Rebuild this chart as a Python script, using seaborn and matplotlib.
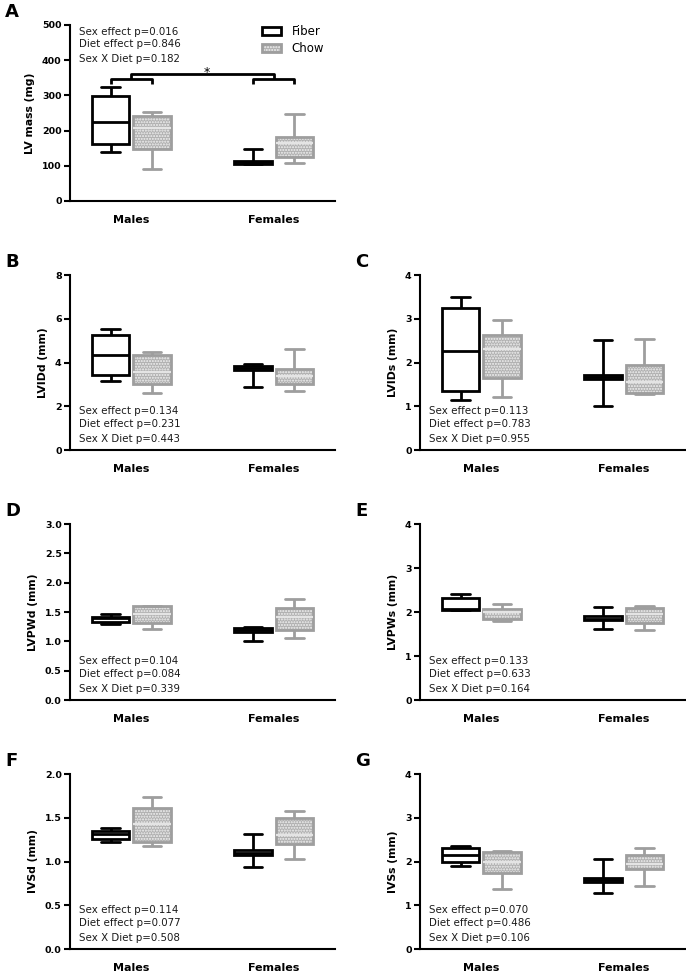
import numpy as np
import pandas as pd
import matplotlib
matplotlib.use("Agg")
import matplotlib.pyplot as plt
import seaborn as sns
from matplotlib.patches import Patch
from matplotlib.ticker import FormatStrFormatter
from matplotlib.colors import to_rgba

sexes = ["Males", "Females"]
diets = ["Fiber", "Chow"]

# five-number summaries (min, Q1, median, Q3, max)
lvmass_male_fiber = [139, 162, 224, 297, 323]
lvmass_male_chow = [90, 148, 206, 241, 254]
lvmass_female_fiber = [104, 105, 110, 115, 147]
lvmass_female_chow = [109, 126, 164, 182, 246]

lvidd_male_fiber = [3.16, 3.44, 4.34, 5.24, 5.53]
lvidd_male_chow = [2.59, 3.03, 3.55, 4.33, 4.50]
lvidd_female_fiber = [2.87, 3.66, 3.75, 3.84, 3.95]
lvidd_female_chow = [2.68, 3.02, 3.38, 3.70, 4.60]

lvids_male_fiber = [1.14, 1.36, 2.26, 3.25, 3.50]
lvids_male_chow = [1.21, 1.65, 2.31, 2.63, 2.98]
lvids_female_fiber = [1.00, 1.63, 1.68, 1.72, 2.51]
lvids_female_chow = [1.27, 1.31, 1.56, 1.94, 2.53]

lvpwd_male_fiber = [1.30, 1.33, 1.39, 1.42, 1.46]
lvpwd_male_chow = [1.21, 1.31, 1.46, 1.61, 1.61]
lvpwd_female_fiber = [1.00, 1.155, 1.19, 1.22, 1.25]
lvpwd_female_chow = [1.05, 1.19, 1.42, 1.56, 1.73]

lvpws_male_fiber = [2.04, 2.05, 2.07, 2.31, 2.40]
lvpws_male_chow = [1.80, 1.84, 1.99, 2.06, 2.19]
lvpws_female_fiber = [1.62, 1.81, 1.85, 1.90, 2.11]
lvpws_female_chow = [1.58, 1.75, 1.95, 2.10, 2.14]

ivsd_male_fiber = [1.22, 1.26, 1.31, 1.35, 1.38]
ivsd_male_chow = [1.18, 1.22, 1.43, 1.61, 1.74]
ivsd_female_fiber = [0.94, 1.08, 1.10, 1.13, 1.31]
ivsd_female_chow = [1.03, 1.20, 1.30, 1.50, 1.58]

ivss_male_fiber = [1.90, 1.98, 2.16, 2.31, 2.36]
ivss_male_chow = [1.37, 1.73, 2.00, 2.21, 2.25]
ivss_female_fiber = [1.27, 1.54, 1.58, 1.63, 2.05]
ivss_female_chow = [1.45, 1.83, 1.95, 2.14, 2.31]

panel_letters = ["A", "B", "C", "D", "E", "F", "G"]
ylabels = ["LV mass (mg)", "LVIDd (mm)", "LVIDs (mm)", "LVPWd (mm)",
           "LVPWs (mm)", "IVSd (mm)", "IVSs (mm)"]
sex_p = ["0.016", "0.134", "0.113", "0.104", "0.133", "0.114", "0.070"]
diet_p = ["0.846", "0.231", "0.783", "0.084", "0.633", "0.077", "0.486"]
inter_p = ["0.182", "0.443", "0.955", "0.339", "0.164", "0.508", "0.106"]
y_ticks = [[0, 100, 200, 300, 400, 500], [0, 2, 4, 6, 8], [0, 1, 2, 3, 4],
           [0.0, 0.5, 1.0, 1.5, 2.0, 2.5, 3.0], [0, 1, 2, 3, 4],
           [0.0, 0.5, 1.0, 1.5, 2.0], [0, 1, 2, 3, 4]]

panel_data = [
    (lvmass_male_fiber, lvmass_male_chow, lvmass_female_fiber, lvmass_female_chow),
    (lvidd_male_fiber, lvidd_male_chow, lvidd_female_fiber, lvidd_female_chow),
    (lvids_male_fiber, lvids_male_chow, lvids_female_fiber, lvids_female_chow),
    (lvpwd_male_fiber, lvpwd_male_chow, lvpwd_female_fiber, lvpwd_female_chow),
    (lvpws_male_fiber, lvpws_male_chow, lvpws_female_fiber, lvpws_female_chow),
    (ivsd_male_fiber, ivsd_male_chow, ivsd_female_fiber, ivsd_female_chow),
    (ivss_male_fiber, ivss_male_chow, ivss_female_fiber, ivss_female_chow),
]

sns.set_style("ticks")
plt.rcParams["font.family"] = ["DejaVu Sans"]
plt.rcParams["hatch.linewidth"] = 1.0
for k in ["text.color", "axes.labelcolor", "xtick.color", "ytick.color", "axes.edgecolor"]:
    plt.rcParams[k] = "black"

W, H = 686, 971
fig = plt.figure(figsize=(W / 100, H / 100), dpi=100)

# axes boxes in pixels: left, top, right, bottom
boxes_px = [(70, 25, 335, 201), (70, 275, 335, 450), (420, 275, 685, 450),
            (70, 524, 335, 700), (420, 524, 685, 700),
            (70, 774, 335, 949), (420, 774, 685, 949)]

LW = 2.0
FIB_EC, FIB_FC = "black", "white"
CHOW_EC, CHOW_FC, CHOW_HATCH = "#9e9e9e", "#b0b0b0", "......"
CHOW_HATCH_COLOR = "#f2f2f2"
CHOW_MED = "#e4e4e4"


def make_df(vals):
    rows = []
    groups = [("Males", "Fiber"), ("Males", "Chow"), ("Females", "Fiber"), ("Females", "Chow")]
    for (sex, diet), v in zip(groups, vals):
        for x in v:
            rows.append({"Sex": sex, "Diet": diet, "value": x})
    return pd.DataFrame(rows)


def style_chow_patch(p):
    p.set_facecolor(CHOW_FC)
    p.set_edgecolor(CHOW_EC)
    p.set_hatch(CHOW_HATCH)
    p._hatch_color = to_rgba(CHOW_HATCH_COLOR)


for i, (l, t, r, b) in enumerate(boxes_px):
    ax = fig.add_axes([l / W, 1 - b / H, (r - l) / W, (b - t) / H])
    df = make_df(panel_data[i])
    sns.boxplot(data=df, x="Sex", y="value", hue="Diet", order=sexes, hue_order=diets,
                palette={"Fiber": FIB_FC, "Chow": CHOW_FC}, width=0.58, gap=0.1,
                whis=(0, 100), fliersize=0, linewidth=LW, dodge=True,
                legend=False, ax=ax)
    for cont, diet in zip(ax.containers, diets):
        ec = FIB_EC if diet == "Fiber" else CHOW_EC
        for bx in cont.boxes:
            bx.set_linewidth(LW)
            if diet == "Chow":
                style_chow_patch(bx)
            else:
                bx.set_facecolor(FIB_FC)
                bx.set_edgecolor(FIB_EC)
        for ln in list(cont.whiskers) + list(cont.caps):
            ln.set_color(ec)
            ln.set_linewidth(LW)
        for ln in cont.medians:
            ln.set_color(ec if diet == "Fiber" else CHOW_MED)
            ln.set_linewidth(LW if diet == "Fiber" else 1.6)

    ticks = y_ticks[i]
    ax.set_ylim(ticks[0], ticks[-1])
    ax.set_yticks(ticks)
    if isinstance(ticks[1], float):
        ax.yaxis.set_major_formatter(FormatStrFormatter("%.1f"))
    ax.set_xlim(-0.43, 1.43)
    ax.set_xlabel("")
    ax.set_ylabel(ylabels[i], fontsize=7.8, fontweight="bold", labelpad=5)
    for s in ["top", "right"]:
        ax.spines[s].set_visible(False)
    for s in ["left", "bottom"]:
        ax.spines[s].set_linewidth(1.5)
        ax.spines[s].set_color("black")
    ax.tick_params(axis="y", length=4, width=1.5, pad=2, labelsize=6.8,
                   direction="out", colors="black")
    ax.tick_params(axis="x", length=0, pad=10, labelsize=8, colors="black")
    for lab in ax.get_yticklabels() + ax.get_xticklabels():
        lab.set_fontweight("bold")

    texts = [f"Sex effect p={sex_p[i]}", f"Diet effect p={diet_p[i]}",
             f"Sex X Diet p={inter_p[i]}"]
    if i == 0:
        ys = [0.963, 0.89, 0.807]
    else:
        ys = [0.223, 0.148, 0.065]
    for txt, yy in zip(texts, ys):
        ax.text(0.034, yy, txt, transform=ax.transAxes, fontsize=7.4,
                va="center", ha="left", color="#1a1a1a")

    fig.text((l - 65) / W, 1 - (t - 13) / H, panel_letters[i], fontsize=13,
             fontweight="bold", ha="left", va="center")

    if i == 0:
        off = 0.145
        kw = dict(color="black", lw=2.0, clip_on=False, solid_capstyle="butt")
        for c in [0, 1]:
            ax.plot([c - off, c - off, c + off, c + off], [331, 346, 346, 331], **kw)
        ax.plot([0, 0, 1, 1], [346, 362, 362, 346], **kw)
        ax.text(0.53, 356, "*", ha="center", va="baseline", fontsize=9)
        h_chow = Patch(linewidth=LW)
        style_chow_patch(h_chow)
        handles = [Patch(facecolor=FIB_FC, edgecolor=FIB_EC, linewidth=LW), h_chow]
        leg = ax.legend(handles, diets, loc="upper left", bbox_to_anchor=(0.725, 1.0),
                        frameon=False, fontsize=8.5, handlelength=1.6, handleheight=0.7,
                        handletextpad=0.9, labelspacing=0.35, borderpad=0, borderaxespad=0)
        for hp in leg.get_patches()[1:]:
            style_chow_patch(hp)

fig.savefig("out.png", dpi=100)
